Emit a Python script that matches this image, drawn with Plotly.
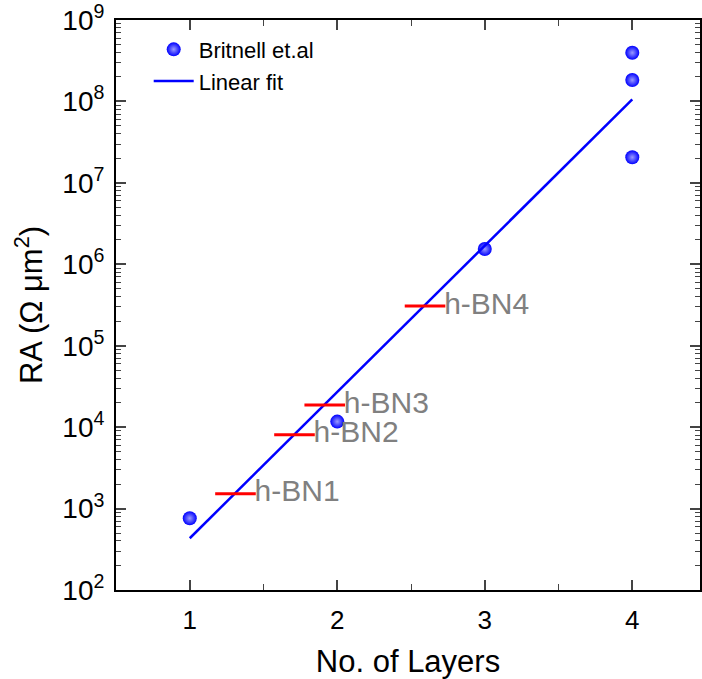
import plotly.graph_objects as go

# Data
layers = [1, 2, 3, 4, 4, 4]
ra_britnell = [760, 11700, 1.54e6, 3.96e8, 1.83e8, 2.06e7]

fit_x = [1, 4]
fit_y = [432, 1.06e8]

hbn_x = [1.31, 1.71, 1.915, 2.595]
hbn_y = [1520, 8070, 18700, 3.07e5]
hbn_labels = ["h-BN1", "h-BN2", "h-BN3", "h-BN4"]

ytick_vals = [1e2, 1e3, 1e4, 1e5, 1e6, 1e7, 1e8, 1e9]
ytick_text = ["10<sup>%d</sup>" % k for k in range(2, 10)]
xtick_vals = [1, 2, 3, 4]

FONT = "Arial, 'Liberation Sans', sans-serif"

fig = go.Figure()

fig.add_trace(go.Scatter(
    x=layers, y=ra_britnell, mode="markers", name="Britnell et.al",
    marker=dict(size=14, color="#0000ff", line=dict(width=0),
                gradient=dict(type="radial", color="#9a9aff")),
))
fig.add_trace(go.Scatter(
    x=fit_x, y=fit_y, mode="lines", name="Linear fit",
    line=dict(color="#0000ff", width=2.5),
))
fig.add_trace(go.Scatter(
    x=hbn_x, y=hbn_y, mode="markers+text", text=hbn_labels,
    textposition="middle right", showlegend=False,
    textfont=dict(size=30, color="#808080", family=FONT),
    marker=dict(symbol="line-ew", size=29, color="#ff0000",
                line=dict(color="#ff0000", width=3)),
))

fig.update_layout(
    width=702, height=679,
    margin=dict(l=116, r=0, t=20, b=89),
    paper_bgcolor="white", plot_bgcolor="white",
    font=dict(family=FONT, color="black"),
    legend=dict(x=0.056, y=0.985, xanchor="left", yanchor="top",
                bgcolor="rgba(0,0,0,0)", font=dict(size=22),
                itemwidth=40, tracegroupgap=0),
)

fig.update_xaxes(
    range=[0.5, 4.459], tickvals=xtick_vals, ticks="inside", ticklen=10, tickwidth=1.5,
    showline=True, linewidth=2, linecolor="black", mirror="ticks", showgrid=False,
    zeroline=False, tickfont=dict(size=26), ticklabelstandoff=6,
    minor=dict(ticks="inside", ticklen=6, tickwidth=1, dtick=0.5, tick0=0.5, showgrid=False),
    title=dict(text="No. of Layers", font=dict(size=31), standoff=18),
)
fig.update_yaxes(
    type="log", range=[2, 9], tickvals=ytick_vals, ticktext=ytick_text,
    ticks="inside", ticklen=10, tickwidth=1.5,
    showline=True, linewidth=2, linecolor="black", mirror="ticks", showgrid=False,
    zeroline=False, tickfont=dict(size=28), ticklabelstandoff=4,
    minor=dict(ticks="inside", ticklen=5, tickwidth=1, dtick="D1", showgrid=False),
    title=dict(text="RA (\u03a9 \u03bcm<sup>2</sup>)", font=dict(size=31), standoff=10),
)

fig.write_html("out.html")
